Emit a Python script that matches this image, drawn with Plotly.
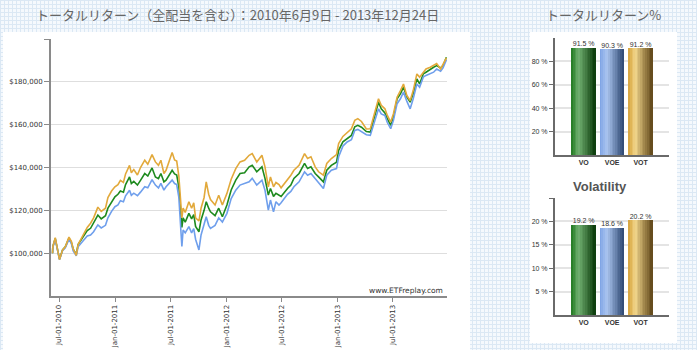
import plotly.graph_objects as go

# ---- growth of $100,000 (values in thousands of dollars) ----
dates = [
    "2010-06-09", "2010-06-10", "2010-06-18", "2010-06-24", "2010-07-02", "2010-07-12",
    "2010-07-21", "2010-08-02", "2010-08-10", "2010-08-16", "2010-08-26", "2010-09-01",
    "2010-09-10", "2010-09-20", "2010-10-01", "2010-10-12", "2010-10-22", "2010-11-05",
    "2010-11-16", "2010-11-30", "2010-12-08", "2010-12-20", "2010-12-31", "2011-01-10",
    "2011-01-18", "2011-01-28", "2011-02-04", "2011-02-17", "2011-02-23", "2011-03-03",
    "2011-03-15", "2011-03-25", "2011-04-08", "2011-04-18", "2011-05-02", "2011-05-13",
    "2011-05-23", "2011-05-31", "2011-06-10", "2011-06-17", "2011-07-01", "2011-07-07",
    "2011-07-15", "2011-07-22", "2011-07-29", "2011-08-04", "2011-08-08", "2011-08-12",
    "2011-08-19", "2011-08-31", "2011-09-09", "2011-09-16", "2011-09-22", "2011-10-03",
    "2011-10-10", "2011-10-20", "2011-10-27", "2011-11-04", "2011-11-10", "2011-11-25",
    "2011-12-07", "2011-12-19", "2012-01-03", "2012-01-17", "2012-02-01", "2012-02-15",
    "2012-03-01", "2012-03-16", "2012-03-26", "2012-04-10", "2012-04-27", "2012-05-07",
    "2012-05-18", "2012-05-25", "2012-06-04", "2012-06-12", "2012-06-22", "2012-06-29",
    "2012-07-20", "2012-07-31", "2012-08-10", "2012-08-27", "2012-09-14", "2012-09-24",
    "2012-10-05", "2012-10-19", "2012-10-30", "2012-11-15", "2012-11-26", "2012-12-11",
    "2012-12-28", "2013-01-04", "2013-01-18", "2013-02-01", "2013-02-15", "2013-02-26",
    "2013-03-08", "2013-03-20", "2013-04-05", "2013-04-18", "2013-04-29", "2013-05-15",
    "2013-05-24", "2013-06-05", "2013-06-13", "2013-06-24", "2013-07-03", "2013-07-15",
    "2013-07-26", "2013-08-05", "2013-08-16", "2013-08-27", "2013-09-06", "2013-09-18",
    "2013-09-27", "2013-10-09", "2013-10-18", "2013-11-01", "2013-11-12", "2013-11-22",
    "2013-12-05", "2013-12-13", "2013-12-24",
]

vot_k = [
    100.0, 103.0, 107.2, 102.5, 97.0, 101.5, 103.0, 107.5, 105.5, 102.0, 99.0, 104.0,
    106.5, 109.0, 112.0, 114.0, 116.5, 121.5, 119.5, 121.0, 126.0, 129.0, 131.0, 132.0,
    134.0, 133.0, 137.0, 141.0, 137.5, 139.0, 136.5, 140.0, 143.4, 141.5, 146.0, 142.6,
    141.0, 143.4, 137.2, 138.7, 145.0, 147.0, 143.5, 143.0, 136.0, 122.0, 116.5, 121.0,
    119.0, 124.0, 121.0, 123.5, 116.5, 115.0, 121.0, 126.0, 133.3, 127.5, 125.0, 122.5,
    127.0, 122.5, 127.9, 134.5, 139.5, 142.6, 143.4, 145.7, 146.5, 142.6, 145.7, 140.3,
    131.0, 135.6, 131.0, 133.0, 132.0, 130.5, 134.1, 136.4, 138.7, 141.0, 146.5, 144.2,
    145.0, 140.3, 138.0, 136.4, 141.9, 144.2, 146.0, 151.2, 154.5, 156.5, 158.1, 162.0,
    162.8, 161.5, 158.0, 158.1, 163.5, 172.1, 169.0, 167.4, 164.3, 161.2, 165.1, 172.8,
    175.9, 179.0, 173.6, 171.3, 175.9, 183.7, 182.2, 184.4, 186.0, 186.8, 187.6, 188.5,
    186.0, 188.0, 191.2,
]

vo_k = [
    100.0, 103.0, 106.8, 102.5, 97.2, 101.5, 103.0, 107.0, 105.0, 101.8, 99.5, 104.0,
    106.0, 108.5, 110.5, 111.6, 114.0, 117.8, 116.0, 117.5, 121.0, 124.0, 126.3, 127.5,
    129.0, 128.5, 132.0, 135.6, 132.5, 133.5, 131.8, 134.0, 137.2, 136.0, 139.8, 135.6,
    134.8, 137.2, 133.3, 134.1, 137.5, 138.7, 137.0, 136.5, 131.0, 117.0, 112.0, 116.5,
    114.5, 118.6, 116.0, 118.0, 112.5, 110.0, 115.5, 120.0, 124.0, 121.0, 119.3, 117.5,
    121.0, 117.0, 122.5, 129.5, 134.1, 137.2, 137.5, 140.3, 141.0, 138.0, 140.3, 134.9,
    127.1, 130.2, 126.5, 128.0, 127.0, 126.5, 130.2, 131.8, 134.9, 137.2, 141.9, 139.5,
    140.3, 137.2, 135.6, 133.3, 138.7, 141.0, 142.5, 148.0, 152.0, 153.5, 155.0, 159.0,
    159.7, 158.8, 156.8, 156.5, 162.0, 170.5, 167.4, 165.5, 162.8, 159.7, 163.5, 172.1,
    174.4, 177.5, 173.0, 170.5, 174.4, 181.4, 179.0, 183.7, 184.5, 186.0, 186.8, 187.6,
    186.5, 187.5, 191.5,
]

voe_k = [
    100.0, 102.8, 106.5, 102.3, 97.0, 101.2, 102.5, 106.5, 104.5, 101.0, 98.8, 103.0,
    104.5, 106.5, 108.0, 108.5, 110.0, 113.2, 111.8, 113.0, 116.5, 119.5, 121.7, 122.5,
    124.5, 124.0, 126.8, 129.4, 127.0, 128.0, 126.8, 128.5, 131.0, 130.5, 134.3, 131.8,
    130.5, 132.6, 129.4, 131.0, 133.0, 134.1, 132.5, 132.0, 126.0, 108.0, 103.1, 110.8,
    109.5, 112.4, 109.5, 111.5, 106.5, 101.5, 108.5, 113.5, 117.0, 113.0, 111.6, 113.0,
    116.5, 114.5, 118.6, 125.5, 129.4, 131.8, 132.6, 133.3, 134.9, 131.8, 134.1, 129.4,
    120.1, 124.8, 119.3, 124.0, 122.5, 123.5, 127.5, 128.8, 131.0, 133.3, 138.0, 136.4,
    137.2, 134.9, 132.6, 130.2, 136.4, 138.7, 139.5, 145.0, 150.0, 151.9, 153.0, 157.3,
    157.8, 156.8, 155.3, 155.0, 159.7, 167.4, 165.0, 164.3, 161.0, 158.1, 162.0, 169.8,
    172.1, 175.2, 171.0, 167.4, 172.1, 179.0, 177.5, 182.2, 183.0, 183.7, 184.5, 186.0,
    185.0, 186.5, 190.3,
]

# ---- summary statistics ----
tickers = ["VO", "VOE", "VOT"]
total_return = [91.5, 90.3, 91.2]
volatility = [19.2, 18.6, 20.2]

date_ticks = ["2010-07-01", "2011-01-01", "2011-07-01", "2012-01-01",
              "2012-07-01", "2013-01-01", "2013-07-01"]
value_ticks = [100000, 120000, 140000, 160000, 180000, 200000]
return_ticks = [20, 40, 60, 80]
vol_ticks = [5, 10, 15, 20, 25]

W, H = 697, 350


def px(x):
    return x / W


def py(y):
    return 1 - y / H


line_colors = {"VO": "#1e8a1e", "VOE": "#6f9fec", "VOT": "#e2a93b"}
series = {"VO": vo_k, "VOE": voe_k, "VOT": vot_k}

fig = go.Figure()

for name in ["VO", "VOE", "VOT"]:
    fig.add_trace(go.Scatter(
        x=dates, y=[v * 1000 for v in series[name]], mode="lines", name=name,
        line=dict(color=line_colors[name], width=1.6), xaxis="x", yaxis="y",
        showlegend=False, hoverinfo="skip",
    ))

# cylinder-shaded bars: each bar is split into thin vertical strips
shade_stops = {
    "VO": [(0.0, (30, 120, 30)), (0.3, (112, 176, 112)), (1.0, (10, 58, 10))],
    "VOE": [(0.0, (122, 160, 228)), (0.3, (172, 198, 240)), (1.0, (44, 70, 112))],
    "VOT": [(0.0, (212, 162, 58)), (0.3, (242, 214, 140)), (1.0, (94, 70, 24))],
}


def shade(name, t):
    stops = shade_stops[name]
    for (t0, c0), (t1, c1) in zip(stops[:-1], stops[1:]):
        if t0 <= t <= t1:
            f = (t - t0) / (t1 - t0)
            c = [round(a + (b - a) * f) for a, b in zip(c0, c1)]
            return "rgb(%d,%d,%d)" % tuple(c)
    return "rgb(%d,%d,%d)" % stops[-1][1]


N = 14
BW = 0.84
for axis_x, axis_y, values in (("x2", "y2", total_return), ("x3", "y3", volatility)):
    for i in range(N):
        t = (i + 0.5) / N
        fig.add_trace(go.Bar(
            x=[0, 1, 2], y=values, width=BW / N, offset=-BW / 2 + i * BW / N,
            marker=dict(color=[shade(n, t) for n in tickers], line=dict(width=0)),
            xaxis=axis_x, yaxis=axis_y, showlegend=False, hoverinfo="skip",
        ))
    fig.add_trace(go.Scatter(
        x=[0, 1, 2], y=values, mode="text", text=["%.1f %%" % v for v in values],
        textposition="top center",
        textfont=dict(family="Liberation Sans", size=7, color="#333333"),
        xaxis=axis_x, yaxis=axis_y, showlegend=False, hoverinfo="skip", cliponaxis=False,
    ))

# light blue graph-paper backdrop
vpath = " ".join("M%.5f,0 L%.5f,1" % ((4 * k + 0.5) / W, (4 * k + 0.5) / W) for k in range(W // 4 + 1))
hpath = " ".join("M0,%.5f L1,%.5f" % (py(4 * k + 0.5), py(4 * k + 0.5)) for k in range(H // 4 + 1))
shapes = [
    dict(type="path", path=vpath, xref="paper", yref="paper", layer="below",
         line=dict(color="#dbe8f4", width=1)),
    dict(type="path", path=hpath, xref="paper", yref="paper", layer="below",
         line=dict(color="#dbe8f4", width=1)),
    dict(type="rect", xref="paper", yref="paper", x0=px(3), x1=px(470), y0=py(350), y1=py(32),
         fillcolor="white", line=dict(width=0), layer="below"),
    dict(type="rect", xref="paper", yref="paper", x0=px(530), x1=px(677), y0=py(343), y1=py(32),
         fillcolor="white", line=dict(width=0), layer="below"),
]

small = dict(family="DejaVu Sans", size=7, color="#333333")
bar_tick = dict(family="Liberation Sans", size=7, color="#333333")

fig.update_layout(
    width=W, height=H, margin=dict(l=0, r=0, t=0, b=0),
    paper_bgcolor="#f5f9fd", plot_bgcolor="rgba(0,0,0,0)",
    barmode="overlay", bargap=0, shapes=shapes,
    xaxis=dict(
        domain=[px(51), px(447)], type="date", range=["2010-06-04", "2013-12-26"],
        tickvals=date_ticks, tickformat="%b-%d-%Y", tickangle=-90, tickfont=small,
        ticks="outside", ticklen=4, tickcolor="#8a8a8a", showgrid=False, zeroline=False,
        showline=True, linecolor="#8a8a8a", linewidth=2, anchor="y", automargin=False,
    ),
    yaxis=dict(
        domain=[py(296), py(39)], range=[80000, 200000], tickvals=value_ticks,
        ticktext=["$" + format(v, ",") if v < 200000 else "" for v in value_ticks],
        tickfont=small, ticks="outside", ticklen=5, tickcolor="#8a8a8a",
        showgrid=True, gridcolor="#dedede", gridwidth=1, zeroline=False,
        showline=True, linecolor="#8a8a8a", linewidth=2, anchor="x", automargin=False,
    ),
    xaxis2=dict(
        domain=[px(555), px(669)], range=[-1.01, 3.0], tickvals=[0, 1, 2], ticktext=tickers,
        tickfont=dict(family="Liberation Sans", size=7, color="#333333", weight="bold"),
        ticks="", showgrid=False, zeroline=False, showline=True, linecolor="#6a6a6a",
        linewidth=2, anchor="y2", automargin=False,
    ),
    yaxis2=dict(
        domain=[py(155), py(38)], range=[0, 100], tickvals=return_ticks,
        ticktext=["%d %%" % v for v in return_ticks],
        tickfont=bar_tick, ticks="outside", ticklen=4, tickcolor="#6a6a6a",
        showgrid=True, gridcolor="#e4e4e4", gridwidth=2, zeroline=False,
        showline=True, linecolor="#6a6a6a", linewidth=2, anchor="x2", automargin=False,
    ),
    xaxis3=dict(
        domain=[px(555), px(669)], range=[-1.01, 3.0], tickvals=[0, 1, 2], ticktext=tickers,
        tickfont=dict(family="Liberation Sans", size=7, color="#333333", weight="bold"),
        ticks="", showgrid=False, zeroline=False, showline=True, linecolor="#6a6a6a",
        linewidth=2, anchor="y3", automargin=False,
    ),
    yaxis3=dict(
        domain=[py(315), py(198)], range=[0, 25], tickvals=vol_ticks,
        ticktext=["%d %%" % v if v < 25 else "" for v in vol_ticks],
        tickfont=bar_tick, ticks="outside", ticklen=4, tickcolor="#6a6a6a",
        showgrid=True, gridcolor="#e4e4e4", gridwidth=2, zeroline=False,
        showline=True, linecolor="#6a6a6a", linewidth=2, anchor="x3", automargin=False,
    ),
    annotations=[
        dict(text="トータルリターン（全配当を含む）：2010年6月9日 - 2013年12月24日",
             x=px(237), y=py(15), xref="paper", yref="paper", showarrow=False,
             xanchor="center", yanchor="middle",
             font=dict(family="Noto Sans CJK JP", size=13, color="#666666")),
        dict(text="トータルリターン%", x=px(603), y=py(15), xref="paper", yref="paper",
             showarrow=False, xanchor="center", yanchor="middle",
             font=dict(family="Noto Sans CJK JP", size=13, color="#666666")),
        dict(text="<b>Volatility</b>", x=px(600), y=py(186), xref="paper", yref="paper",
             showarrow=False, xanchor="center", yanchor="middle",
             font=dict(family="Liberation Sans", size=13, color="#555555")),
        dict(text="www.ETFreplay.com", x=px(445), y=py(290), xref="paper", yref="paper",
             showarrow=False, xanchor="right", yanchor="middle",
             font=dict(family="DejaVu Sans", size=7.5, color="#333333")),
    ],
)

fig.write_html("out.html")
